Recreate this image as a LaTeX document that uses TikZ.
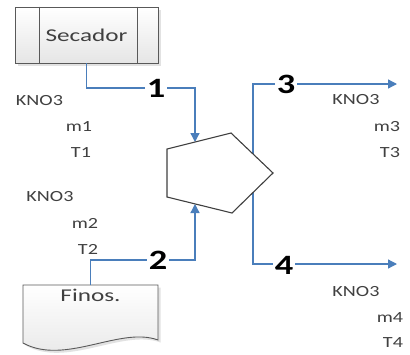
\documentclass[tikz,border=0pt]{standalone}
\usepackage{fontspec}
\setmainfont{Carlito}
\newfontfamily\wfont[FakeStretch=1.4]{Carlito}
\newfontfamily\lfont[FakeStretch=1.3]{Carlito}
\usetikzlibrary{arrows.meta,shadows}
\definecolor{flow}{HTML}{4A7EBB}
\definecolor{txt}{HTML}{404040}
\definecolor{edge}{HTML}{595959}
\begin{document}
\begin{tikzpicture}[x=1pt,y=-1pt,
  flowarrow/.style={draw=flow,line width=1.3pt,-{Triangle[length=9pt,width=9pt]}},
  lbl/.style={font=\lfont\fontsize{15.5}{17}\selectfont,text=txt,inner sep=0pt},
  num/.style={font=\lfont\bfseries\fontsize{28}{30}\selectfont,fill=white,inner sep=1.5pt},
  boxtext/.style={font=\wfont\fontsize{18}{20}\selectfont,text=txt},
  shade/.style={top color=white,bottom color=gray!20,draw=edge,line width=0.9pt,
    drop shadow={shadow xshift=2.5pt,shadow yshift=-2.5pt,fill=gray!45}},
  pent/.style={fill=white,draw=txt,line width=1.1pt}
]
\useasboundingbox (0,0) rectangle (410,354);

% Secador
\node[shade,boxtext,minimum width=143pt,minimum height=56pt] (sec) at (86.5,35) {Secador};
\draw[edge,line width=0.9pt] ([xshift=25pt]sec.north west) -- ([xshift=25pt]sec.south west);
\draw[edge,line width=0.9pt] ([xshift=-21pt]sec.north east) -- ([xshift=-21pt]sec.south east);

% Finos document shape
\path[shade] (23,285) -- (158,285) -- (158,340) .. controls (120,326) and (65,366) .. (23,343) -- cycle;
\node[boxtext,anchor=north,inner sep=0pt,minimum width=135pt,text height=12pt,text depth=2pt] (fin) at (90.5,285) {\raisebox{-4pt}{Finos.}};

% pentagon anchor coordinates
\coordinate (pa) at (195,142);
\coordinate (pb) at (195,204);
\coordinate (p3) at (253,160);
\coordinate (p4) at (253,188);
\coordinate (o3) at (397,84);
\coordinate (o4) at (397,264);
\coordinate (c1) at (156,88);
\coordinate (c2) at (158,260);
\coordinate (c3) at (286,84);
\coordinate (c4) at (284,265);

% connectors
\draw[flowarrow] (sec.south) |- (c1) -| (pa);
\draw[flowarrow] (fin.north) |- (c2) -| (pb);
\draw[flowarrow] (p3) |- (o3);
\draw[flowarrow] (p4) |- (o4);

% pentagon
\path[pent] (167,149) -- (231,133) -- (273,173) -- (232,213) -- (167,197) -- cycle;

% numbers
\node[num] (n1) at (c1) {1};
\node[num] (n2) at (c2) {2};
\node[num] (n3) at (c3) {3};
\node[num] (n4) at (c4) {4};

% stream labels
\node[lbl] (k1) at (39.5,100.5) {KNO3};
\node[lbl] (m1) at (79,127) {m1};
\node[lbl] (t1) at (81,153) {T1};
\node[lbl] (k2) at (50,197) {KNO3};
\node[lbl] (m2) at (85,223) {m2};
\node[lbl] (t2) at (88,249) {T2};
\node[lbl] (k3) at (356,100) {KNO3};
\node[lbl] (m3) at (387,127) {m3};
\node[lbl] (t3) at (390,153) {T3};
\node[lbl] (k4) at (356,292) {KNO3};
\node[lbl] (m4) at (390,318) {m4};
\node[lbl] (t4) at (393,343) {T4};
\end{tikzpicture}
\end{document}
